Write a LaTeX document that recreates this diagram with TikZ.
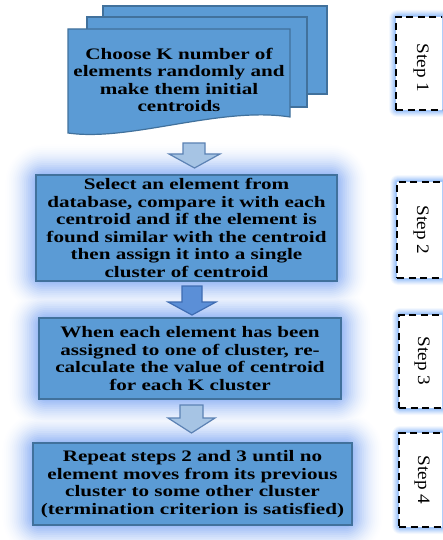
\documentclass[tikz,border=0pt]{standalone}
\usepackage{fontspec}
\setmainfont{Liberation Serif}
\newfontfamily\boxfont[FakeStretch=1.32]{Liberation Serif}
\newfontfamily\stepfont[FakeStretch=1.1]{Liberation Serif}
\usetikzlibrary{backgrounds,calc}

\definecolor{boxfill}{RGB}{91,155,213}
\definecolor{boxline}{RGB}{65,113,156}
\definecolor{glowblue}{RGB}{160,190,246}
\definecolor{stepglow}{RGB}{165,200,250}
\definecolor{paleflow}{RGB}{166,196,228}
\definecolor{paleline}{RGB}{92,130,180}
\definecolor{deepflow}{RGB}{91,143,215}
\definecolor{deepline}{RGB}{62,108,178}

\tikzset{
  procbox/.style={draw=boxline, fill=boxfill, line width=1.2pt, inner sep=0pt,
    align=center, font=\boxfont\bfseries\fontsize{16}{17.5}\selectfont},
  doctext/.style={inner sep=0pt, align=center,
    font=\boxfont\bfseries\fontsize{16}{17.5}\selectfont},
  docpage/.style={draw=boxline, fill=boxfill, line width=1.2pt},
  stepframe/.style={draw=black, fill=white, line width=2pt,
    dash pattern=on 7pt off 4.5pt, inner sep=0pt},
  steplabel/.style={inner sep=0pt, rotate=-90,
    font=\stepfont\fontsize{17.5}{20}\selectfont},
  palearrow/.style={draw=paleline, fill=paleflow, line width=1.2pt, line join=miter},
  deeparrow/.style={draw=deepline, fill=deepflow, line width=1.2pt, line join=miter}
}

\begin{document}
\begin{tikzpicture}[x=1pt, y=-1pt]
\useasboundingbox (0,0) rectangle (442,540);
\clip (0,0) rectangle (442,540);

% stacked pages for the first step
\draw[docpage] (103,6) rectangle (327,94);
\draw[docpage] (87,17) rectangle (307,107);
\draw[docpage] (68,29) -- (290,29) -- (290,117)
  .. controls (220,106) and (130,142) .. (68,133) -- cycle;
\node[doctext] (d1) at (179,80)
  {Choose K number of\\elements randomly and\\make them initial\\centroids};

% process boxes
\node[procbox, minimum width=301pt, minimum height=106pt] (b2) at (186.5,228)
  {Select an element from\\database, compare it with each\\centroid and if the element is\\found similar with the centroid\\then assign it into a single\\cluster of centroid};
\node[procbox, minimum width=302pt, minimum height=81pt] (b3) at (190,358.5)
  {When each element has been\\assigned to one of cluster, re-\\calculate the value of centroid\\for each K cluster};
\node[procbox, minimum width=319pt, minimum height=82pt] (b4) at (192.5,484)
  {Repeat steps 2 and 3 until no\\element moves from its previous\\cluster to some other cluster\\(termination criterion is satisfied)};

% block arrows between the steps
\draw[palearrow] (183,143) -- (205,143) -- (205,154) -- (220,154) -- (194.5,168)
  -- (169,154) -- (183,154) -- cycle;
\draw[deeparrow] (182,286) -- (202,286) -- (202,302) -- (216,302) -- (192,315)
  -- (168,302) -- (182,302) -- cycle;
\draw[palearrow] (180,405) -- (203,405) -- (203,418) -- (215,418) -- (191.5,433)
  -- (168,418) -- (180,418) -- cycle;

% dashed step labels on the right
\node[stepframe, minimum width=54pt, minimum height=93pt] (s1) at (423,63.5) {};
\node[stepframe, minimum width=54pt, minimum height=96pt] (s2) at (424,230) {};
\node[stepframe, minimum width=54pt, minimum height=93pt] (s3) at (426,361.5) {};
\node[stepframe, minimum width=54pt, minimum height=94pt] (s4) at (426,480) {};
\node[steplabel] (t1) at (421,68) {Step 1};
\node[steplabel] (t2) at (421,230) {Step 2};
\node[steplabel] (t3) at (422,361) {Step 3};
\node[steplabel] (t4) at (422,480) {Step 4};

% soft glows behind the boxes
\begin{scope}[on background layer]
  \foreach \k in {0,...,15}{
    \pgfmathsetmacro\e{30*(1-\k/16)}
    \pgfmathsetmacro\c{100*((\k+1)/16)^1.7}
    \pgfmathsetmacro\r{\e+8}
    \foreach \b in {b2,b3,b4}{
      \fill[glowblue!\c!white, rounded corners=\r pt]
        ($(\b.north west)+(-\e,-\e)$) rectangle ($(\b.south east)+(\e,\e)$);
    }
  }
  \foreach \k in {0,...,5}{
    \pgfmathsetmacro\e{6*(1-\k/6)}
    \pgfmathsetmacro\c{100*((\k+1)/6)^1.2}
    \pgfmathsetmacro\r{\e+2}
    \foreach \b in {s1,s2,s3,s4}{
      \fill[stepglow!\c!white, rounded corners=\r pt]
        ($(\b.north west)+(-\e,-\e)$) rectangle ($(\b.south east)+(\e,\e)$);
    }
  }
\end{scope}
\end{tikzpicture}
\end{document}
